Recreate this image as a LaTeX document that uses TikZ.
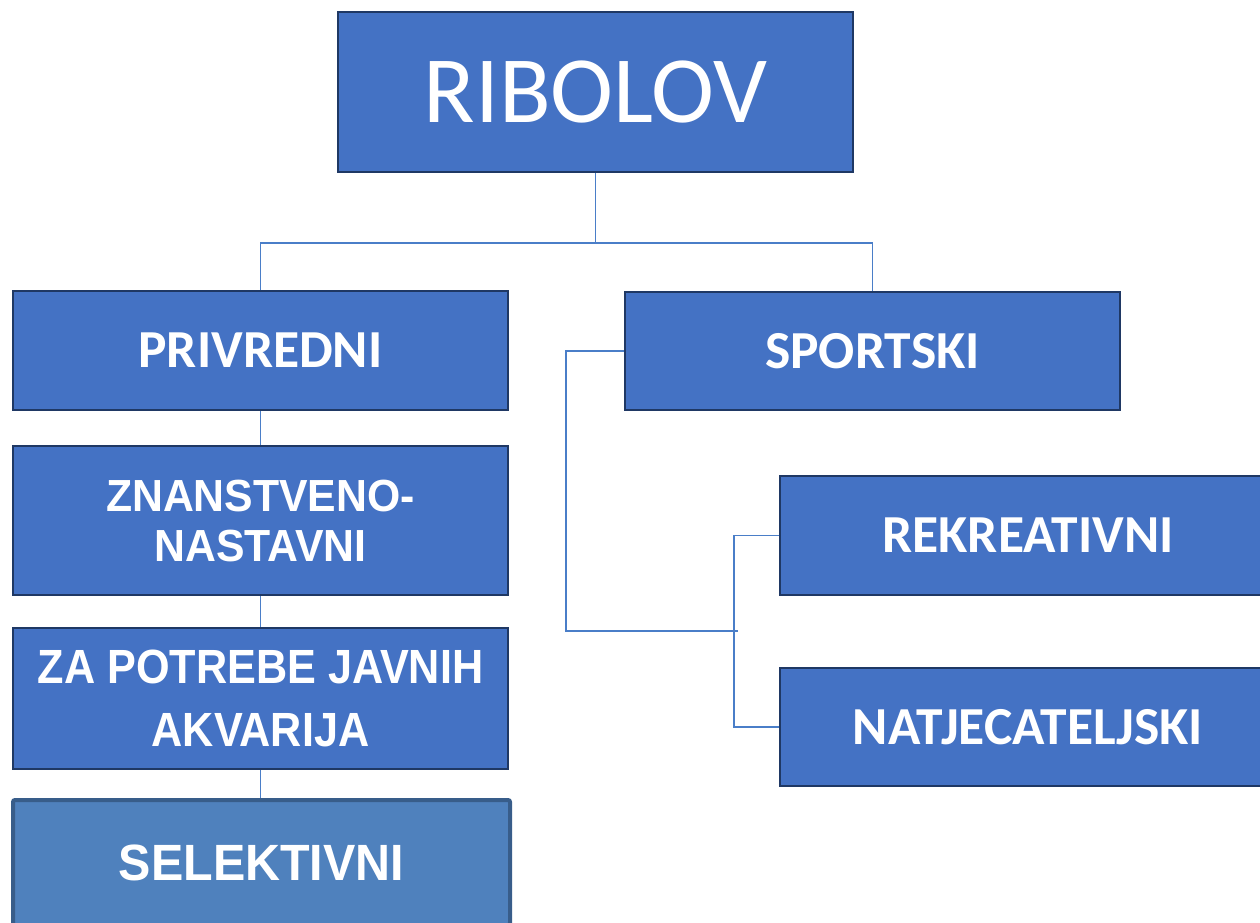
\documentclass[tikz,border=0pt]{standalone}
\usepackage{fontspec}
\setmainfont{Carlito}
\newfontfamily\arialf{Liberation Sans}[FakeStretch=0.9]
\newfontfamily\arialw{Liberation Sans}[FakeStretch=0.95]
\definecolor{boxfill}{HTML}{4472C4}
\definecolor{boxline}{HTML}{1F3864}
\definecolor{conn}{HTML}{4A7EC8}
\definecolor{selfill}{HTML}{4F81BD}
\definecolor{selline}{HTML}{385D8A}
\tikzset{
  box/.style={draw=boxline, line width=2.5pt, fill=boxfill, text=white, align=center,
    inner sep=0pt, minimum width=495pt, minimum height=119pt},
  selbox/.style={box, draw=selline, fill=selfill, line width=4pt, rounded corners=2pt},
  calib/.style={font=\fontsize{53.5}{60}\selectfont\bfseries},
  conn/.style={draw=conn, line width=1.6pt}
}
\begin{document}
\begin{tikzpicture}[x=1pt,y=-1pt]
\useasboundingbox (0,0) rectangle (1260,922);
\node[box, minimum width=515pt, minimum height=160pt, font=\fontsize{95}{100}\selectfont] (rib) at (595.5,92) {RIBOLOV};
\node[box, calib] (priv) at (260.5,350.5) {PRIVREDNI};
\node[box, minimum height=149pt, font=\arialw\bfseries\fontsize{45}{50}\selectfont] (znan) at (260.5,520.5) {ZNANSTVENO-\\NASTAVNI};
\node[box, minimum height=141pt, font=\arialf\bfseries\fontsize{48}{63}\selectfont] (zapot) at (260.5,698.5) {ZA POTREBE JAVNIH\\AKVARIJA};
\node[selbox, minimum width=497pt, minimum height=125pt, font=\arialw\bfseries\fontsize{51}{60}\selectfont] (sel) at (261.5,862.5) {SELEKTIVNI};
\node[box, calib, minimum height=118pt] (sport) at (872.5,351) {SPORTSKI};
\node[box, calib, minimum width=496pt] (rek) at (1028,535.5) {REKREATIVNI};
\node[box, calib, minimum width=496pt, minimum height=118pt] (nat) at (1028,727) {NATJECATELJSKI};
\coordinate (bus1) at (595.5,243);
\coordinate (b2) at (566,631);
\coordinate (b2end) at (738,631);
\draw[conn] (rib.south) -- (bus1);
\draw[conn] (priv.north) |- (bus1) -| (sport.north);
\draw[conn] (priv.south) -- (znan.north);
\draw[conn] (znan.south) -- (zapot.north);
\draw[conn] (zapot.south) -- (zapot.south |- sel.north);
\draw[conn] (sport.west) -| (b2) -- (b2end);
\draw[conn] (rek.west) -- ++(-45,0) |- (nat.west);
\end{tikzpicture}
\end{document}
